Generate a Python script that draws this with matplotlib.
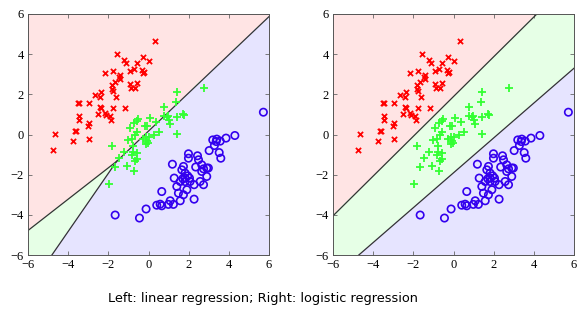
import numpy as np
import matplotlib
matplotlib.use('Agg')
import matplotlib.pyplot as plt

# points (same data in both panels)
red_x = [0.33, -1.59, -1.21, -1.11, -0.28, -0.55, 0.03, -0.70, -0.93, -0.30, -0.20, -0.28,
         -2.19, -1.79, -1.43, -1.46, -1.44, -1.69, -1.84, -0.90, -0.55, -0.86, -0.66, -1.82,
         -1.77, -2.37, -2.65, -2.42, -1.64, -2.98, -3.50, -3.45, -2.40, -2.37, -1.77, -1.16,
         -2.19, -2.11, -2.50, -1.91, -3.45, -3.47, -1.86, -2.98, -3.00, -3.68, -3.60, -4.66,
         -3.78, -2.94, -4.74]
red_y = [4.68, 4.00, 3.70, 3.55, 3.85, 3.55, 3.65, 3.28, 3.17, 3.22, 3.12, 3.08,
         3.07, 3.15, 2.95, 2.84, 2.75, 2.62, 2.45, 2.49, 2.55, 2.32, 2.30, 2.27,
         2.17, 2.14, 1.97, 1.86, 1.89, 1.59, 1.59, 1.56, 1.39, 1.33, 1.33, 1.34,
         1.06, 0.98, 1.00, 0.90, 0.90, 0.71, 0.70, 0.56, 0.43, 0.18, 0.18, 0.03,
         -0.30, -0.20, -0.78]

green_x = [2.75, 1.41, 1.38, 0.75, 0.75, 0.91, 0.96, 1.41, 1.71, 1.79, 1.03, 1.09,
           0.08, -0.53, -0.58, -0.73, 0.36, -0.08, -0.18, -0.90, 0.53, -0.55, -0.66, 0.25,
           1.41, -0.13, 0.00, -0.25, -0.08, -0.03, -1.04, -0.80, -0.13, -1.82, -0.75, -0.75,
           -1.21, -0.55, -0.83, -1.49, -0.58, -1.08, -1.66, -0.70, -1.96, -0.68]
green_y = [2.34, 2.14, 1.64, 1.36, 0.93, 0.86, 0.90, 0.86, 1.03, 0.98, 0.70, 0.51,
           0.81, 0.76, 0.65, 0.56, 0.60, 0.43, 0.43, 0.30, 0.10, 0.12, -0.02, -0.02,
           0.02, -0.10, -0.13, -0.23, -0.30, -0.40, -0.27, -0.23, -0.46, -0.55, -0.55, -0.85,
           -0.85, -0.93, -1.01, -1.18, -1.23, -1.59, -1.64, -1.84, -2.45, -1.34]

blue_x = [5.72, 4.30, 3.86, 3.20, 3.40, 3.57, 3.37, 3.28, 3.02, 3.52, 3.60, 1.99,
          2.44, 1.99, 2.49, 2.65, 2.90, 2.98, 2.74, 1.74, 1.66, 1.19, 2.35, 2.65,
          2.90, 1.82, 1.95, 2.04, 1.28, 1.71, 1.82, 1.58, 2.07, 1.82, 2.57, 2.27,
          2.74, 1.41, 1.91, 0.66, 1.49, 1.74, 2.27, 1.58, 1.08, 0.41, 0.58, 0.66,
          0.99, 1.24, -0.12, -0.45, -1.66]
blue_y = [1.11, -0.05, -0.18, -0.27, -0.23, -0.33, -0.35, -0.55, -0.80, -0.90, -1.18, -0.96,
          -1.06, -1.18, -1.26, -1.51, -1.67, -1.67, -1.71, -1.59, -1.76, -1.48, -1.62, -1.84,
          -2.09, -1.92, -2.06, -2.17, -2.17, -2.20, -2.34, -2.34, -2.34, -2.17, -2.34, -2.50,
          -2.50, -2.59, -2.75, -2.84, -2.92, -3.00, -3.22, -3.30, -3.30, -3.52, -3.47, -3.55,
          -3.48, -3.48, -3.71, -4.16, -4.01]

# decision boundaries: (slope, a point on the line)
left_red_green = (0.78, (-6.0, -4.78))
left_red_blue = (0.95, (6.0, 5.87))
left_green_blue_start = (-4.81, -6.0)   # runs to the triple point
right_red_green = (0.99, (-6.0, -4.05))
right_green_blue = (0.868, (6.0, 3.30))

red_bg = '#ffe4e4'
green_bg = '#e6ffe6'
blue_bg = '#e6e4ff'


def line_y(line, x):
    m, (x0, y0) = line
    return y0 + m * (np.asarray(x) - x0)


fig = plt.figure(figsize=(5.86, 3.24), dpi=100)
ax1 = fig.add_axes([28 / 586, 1 - 255 / 324, 241 / 586, 241 / 324])
ax2 = fig.add_axes([333 / 586, 1 - 255 / 324, 241 / 586, 241 / 324])

xs = np.linspace(-6, 6, 601)
X, Y = np.meshgrid(xs, xs)

# left panel: three lines meeting at one point
m1, (a1, b1) = left_red_green
m2, (a2, b2) = left_red_blue
xi = (b2 - m2 * a2 - b1 + m1 * a1) / (m1 - m2)
yi = line_y(left_red_green, xi)
gx, gy = left_green_blue_start
left_green_blue = ((yi - gy) / (xi - gx), (gx, gy))

lab = np.where(X < xi, np.where(Y > line_y(left_red_green, X), 0, 1),
               np.where(Y > line_y(left_red_blue, X), 0, 2))
lab = np.where((lab != 0) & (Y < line_y(left_green_blue, X)), 2, lab)
ax1.contourf(X, Y, lab, levels=[-0.5, 0.5, 1.5, 2.5], colors=[red_bg, green_bg, blue_bg])
ax1.plot([-6, xi], line_y(left_red_green, [-6, xi]), color='#333333', lw=0.9)
ax1.plot([xi, 6], line_y(left_red_blue, [xi, 6]), color='#333333', lw=0.9)
ax1.plot([gx, xi], [gy, yi], color='#333333', lw=0.9)

# right panel: two lines
lab2 = np.where(Y > line_y(right_red_green, X), 0,
                np.where(Y > line_y(right_green_blue, X), 1, 2))
ax2.contourf(X, Y, lab2, levels=[-0.5, 0.5, 1.5, 2.5], colors=[red_bg, green_bg, blue_bg])
ax2.plot(xs, line_y(right_red_green, xs), color='#333333', lw=0.9)
ax2.plot(xs, line_y(right_green_blue, xs), color='#333333', lw=0.9)

for ax in (ax1, ax2):
    ax.scatter(red_x, red_y, marker='x', s=14, color='#ff0000', linewidths=1.3, zorder=3)
    ax.scatter(green_x, green_y, marker='+', s=30, color='#33ff33', linewidths=1.3, zorder=3)
    ax.scatter(blue_x, blue_y, marker='o', s=28, facecolors='none', edgecolors='#3300ee',
               linewidths=1.2, zorder=3)
    ax.set_xlim(-6, 6)
    ax.set_ylim(-6, 6)
    ax.set_xticks(range(-6, 7, 2))
    ax.set_yticks(range(-6, 7, 2))
    ax.tick_params(direction='in', top=True, right=True, length=3, width=0.6,
                   labelsize=9, pad=3, color='#666666')
    for lbl in ax.get_xticklabels() + ax.get_yticklabels():
        lbl.set_family('Liberation Serif')
    for s in ax.spines.values():
        s.set_color('#555555')
        s.set_linewidth(0.7)

fig.text(0.448, 0.08, 'Left: linear regression; Right: logistic regression',
         ha='center', va='center', fontsize=9.3, family='DejaVu Sans')

fig.savefig('out.png', dpi=100)
